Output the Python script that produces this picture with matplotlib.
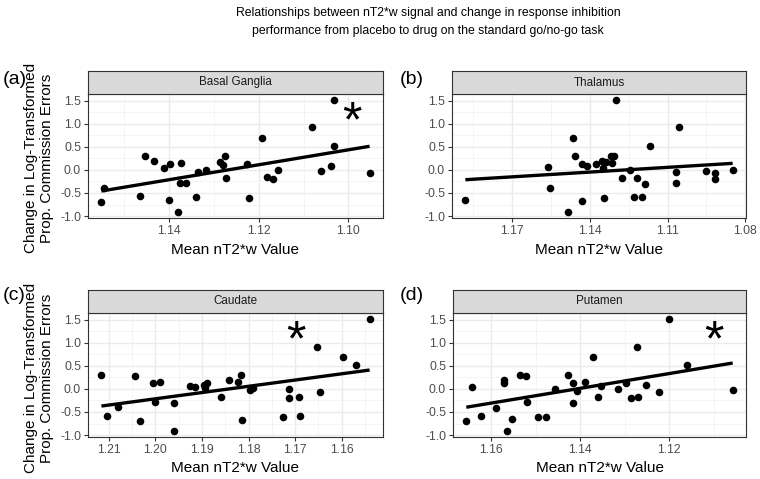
import numpy as np
import matplotlib
matplotlib.use("Agg")
import matplotlib.pyplot as plt
from matplotlib.ticker import MultipleLocator

plt.rcParams['font.family'] = ['Liberation Sans', 'DejaVu Sans']

# data (x = mean nT2*w value, y = change in errors)
bg_x = [1.1550, 1.1545, 1.1464, 1.1453, 1.1434, 1.1410, 1.1397, 1.1399, 1.1379, 1.1376,
        1.1372, 1.1361, 1.1339, 1.1336, 1.1318, 1.1286, 1.1280, 1.1274, 1.1273, 1.1227,
        1.1221, 1.1192, 1.1181, 1.1168, 1.1156, 1.1081, 1.1061, 1.1038, 1.1032, 1.1032,
        1.0953]
bg_y = [-0.685, -0.40, -0.57, 0.30, 0.19, 0.05, 0.12, -0.65, -0.92, -0.29,
        0.14, -0.29, -0.59, -0.04, 0.00, 0.16, 0.11, 0.30, -0.17, 0.12,
        -0.61, 0.68, -0.16, -0.19, 0.00, 0.92, -0.02, 0.08, 0.51, 1.51,
        -0.07]

th_x = [1.1879, 1.1561, 1.1553, 1.1484, 1.1463, 1.1456, 1.1431, 1.1428, 1.1409, 1.1377,
        1.1354, 1.1349, 1.1345, 1.1337, 1.1316, 1.1313, 1.1306, 1.1297, 1.1276, 1.1243,
        1.1231, 1.1219, 1.1198, 1.1187, 1.1169, 1.1066, 1.1066, 1.1055, 1.0953, 1.0918,
        1.0918, 1.0849]
th_y = [-0.66, 0.07, -0.40, -0.92, 0.68, 0.30, -0.68, 0.12, 0.08, 0.12,
        0.19, 0.05, -0.61, 0.16, 0.30, 0.14, 0.30, 1.51, -0.17, 0.00,
        -0.58, -0.17, -0.59, -0.30, 0.51, -0.05, -0.28, 0.92, -0.03, -0.07,
        -0.19, 0.00]

cd_x = [1.2116, 1.2104, 1.2081, 1.2043, 1.2033, 1.2005, 1.2001, 1.1991, 1.1961, 1.1960,
        1.1926, 1.1915, 1.1896, 1.1889, 1.1893, 1.1860, 1.1841, 1.1823, 1.1816, 1.1814,
        1.1796, 1.1790, 1.1726, 1.1713, 1.1713, 1.1691, 1.1690, 1.1652, 1.1646, 1.1598,
        1.1569, 1.1540]
cd_y = [0.30, -0.58, -0.40, 0.28, -0.70, 0.12, -0.29, 0.14, -0.30, -0.92,
        0.07, 0.05, 0.08, 0.12, 0.01, -0.17, 0.19, 0.15, 0.30, -0.67,
        -0.02, 0.01, -0.61, 0.00, -0.20, -0.17, -0.59, 0.91, -0.07, 0.69,
        0.51, 1.52]

pt_x = [1.1656, 1.1644, 1.1624, 1.1589, 1.1572, 1.1571, 1.1564, 1.1553, 1.1535, 1.1522,
        1.1520, 1.1494, 1.1477, 1.1456, 1.1427, 1.1416, 1.1417, 1.1408, 1.1389, 1.1371,
        1.1360, 1.1353, 1.1315, 1.1297, 1.1287, 1.1271, 1.1273, 1.1252, 1.1224, 1.1201,
        1.1160, 1.1058]
pt_y = [-0.70, 0.05, -0.58, -0.41, 0.19, 0.12, -0.92, -0.66, 0.30, 0.28,
        -0.29, -0.60, -0.60, 0.00, 0.30, 0.12, -0.30, -0.04, 0.14, 0.69,
        -0.17, 0.07, -0.01, 0.12, -0.20, -0.17, 0.91, 0.08, -0.07, 1.52,
        0.51, -0.02]

regions = ['Basal Ganglia', 'Thalamus', 'Caudate', 'Putamen']
letters = ['(a)', '(b)', '(c)', '(d)']
xs = [bg_x, th_x, cd_x, pt_x]
ys = [bg_y, th_y, cd_y, pt_y]
x_steps = [0.02, 0.03, 0.01, 0.02]
# significance stars (None = no star)
star_x = [1.0993, None, 1.1699, 1.1100]
star_y = [1.27, None, 1.28, 1.27]

W, H = 760, 479
fig = plt.figure(figsize=(7.6, 4.79), dpi=100)

# pixel boxes: left, right, top, bottom of each panel
boxes = [(88, 383, 94, 218), (452, 746, 94, 218),
         (88, 383, 313, 437), (453, 746, 313, 437)]
strip_h = 23

def fbox(l, r, t, b):
    return [l / W, 1 - b / H, (r - l) / W, (b - t) / H]

for i in range(4):
    l, r, t, b = boxes[i]
    ax = fig.add_axes(fbox(l, r, t, b))
    x = np.array(xs[i])
    y = np.array(ys[i])

    ax.scatter(x, y, s=30, color='black', zorder=3, linewidths=0)
    k, c = np.polyfit(x, y, 1)
    xl = np.array([x.min(), x.max()])
    ax.plot(xl, k * xl + c, color='black', lw=2.4, zorder=4, solid_capstyle='butt')

    if star_x[i] is not None:
        ax.annotate('*', (star_x[i], star_y[i]), xytext=(0, -9), textcoords='offset points',
                    fontsize=36, ha='center', va='center', zorder=5)

    xr = x.max() - x.min()
    ax.set_xlim(x.max() + 0.05 * xr, x.min() - 0.05 * xr)
    ax.set_ylim(-1.042, 1.642)
    step = x_steps[i]
    ax.xaxis.set_major_locator(MultipleLocator(step))
    ax.xaxis.set_minor_locator(MultipleLocator(step / 2))
    ax.yaxis.set_major_locator(MultipleLocator(0.5))
    ax.yaxis.set_minor_locator(MultipleLocator(0.25))
    ax.xaxis.set_major_formatter(matplotlib.ticker.FormatStrFormatter('%.2f'))
    ax.yaxis.set_major_formatter(matplotlib.ticker.FormatStrFormatter('%.1f'))
    ax.grid(which='major', color='#EBEBEB', lw=1.0, zorder=0)
    ax.grid(which='minor', color='#F2F2F2', lw=0.6, zorder=0)
    ax.set_axisbelow(True)
    ax.tick_params(which='major', length=3, width=0.8, color='#333333',
                   labelsize=8.8, labelcolor='#4D4D4D', pad=2)
    ax.tick_params(which='minor', length=0)
    for s in ax.spines.values():
        s.set_color('#333333')
        s.set_linewidth(0.8)
    ax.set_xlabel('Mean nT2*w Value', fontsize=11, color='black', labelpad=4)

    # facet strip
    sax = fig.add_axes(fbox(l, r, t - strip_h, t))
    sax.set_facecolor('#D9D9D9')
    sax.set_xticks([])
    sax.set_yticks([])
    for s in sax.spines.values():
        s.set_color('#333333')
        s.set_linewidth(0.8)
    sax.text(0.5, 0.5, regions[i], ha='center', va='center', fontsize=8.4,
             color='#1A1A1A', transform=sax.transAxes)

    # panel letter
    lx = 3 if i % 2 == 0 else 400
    ly = 80 if i < 2 else 296
    fig.text(lx / W, 1 - ly / H, letters[i], fontsize=14, ha='left', va='center')

    if i % 2 == 0:
        cy = 158 if i == 0 else 378
        fig.text(39 / W, 1 - cy / H, 'Change in Log-Transformed\nProp. Commission Errors',
                 rotation=90, fontsize=11, ha='center', va='center',
                 multialignment='center', linespacing=1.1)

fig.text(428 / W, 1 - 22 / H,
         'Relationships between nT2*w signal and change in response inhibition\n'
         'performance from placebo to drug on the standard go/no-go task',
         ha='center', va='center', fontsize=8.8, linespacing=1.75)

fig.savefig('out.png', dpi=100)
